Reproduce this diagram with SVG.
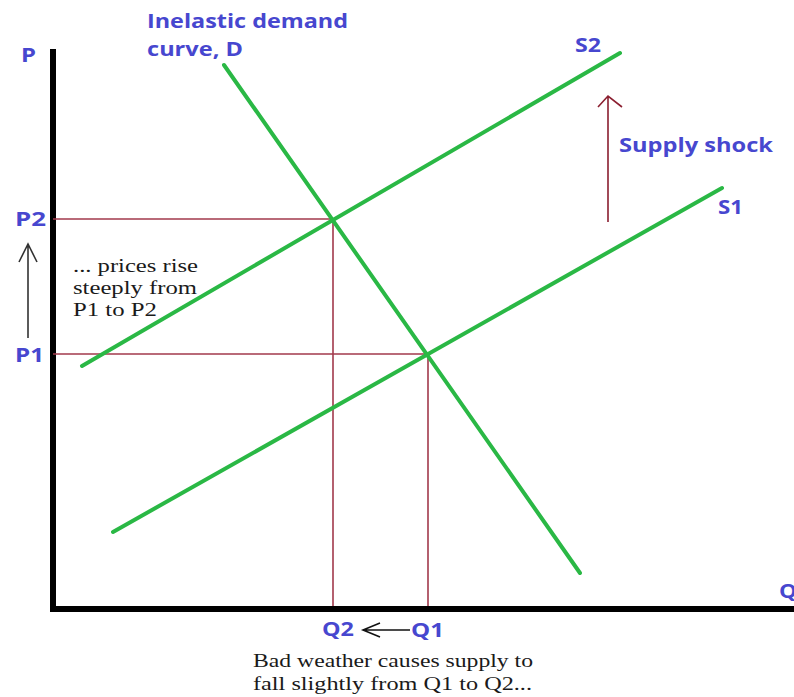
<svg xmlns="http://www.w3.org/2000/svg" width="794" height="697" viewBox="0 0 794 697">
<style>
.lbl{font-family:"Open Sans","Liberation Sans",sans-serif;font-weight:bold;fill:#4747cf;font-size:19px}
.note{font-family:"Liberation Serif","Times New Roman",serif;fill:#1a1a1a;font-size:19px}
.curve{stroke:#2ab845;stroke-width:4;stroke-linecap:round;fill:none}
.guide{stroke:#a23a4c;stroke-width:1.6;fill:none}
.axis{stroke:#000;stroke-width:6;fill:none}
</style>
<rect width="794" height="697" fill="#fff"/>
<g id="axes">
<line class="axis" x1="53" y1="49" x2="53" y2="612"/>
<line class="axis" x1="50" y1="609" x2="794" y2="609"/>
</g>
<g id="guides">
<polyline class="guide" points="53,219 333,219 333,606"/>
<polyline class="guide" points="53,354 428,354 428,606"/>
</g>
<g id="connectors">
<path d="M608,222 V96 M598,107 L608,96 L622,107" stroke="#8b1f30" stroke-width="1.6" fill="none"/>
<path d="M28,338 V244 M19,262 L28,244 L37,262" stroke="#333" stroke-width="1.6" fill="none"/>
<path d="M410,630 H363 M380,623 L363,630 L380,637" stroke="#111" stroke-width="1.6" fill="none"/>
</g>
<g id="demand">
<line class="curve" x1="224" y1="65" x2="580" y2="573"/>
<text class="lbl" x="147" y="28" textLength="201" lengthAdjust="spacingAndGlyphs">Inelastic demand</text>
<text class="lbl" x="147" y="56" textLength="96" lengthAdjust="spacingAndGlyphs">curve, D</text>
</g>
<g id="s2">
<line class="curve" x1="82" y1="366" x2="620" y2="53"/>
<text class="lbl" x="575" y="52" textLength="26" lengthAdjust="spacingAndGlyphs">S2</text>
</g>
<g id="s1">
<line class="curve" x1="113" y1="532" x2="722" y2="188"/>
<text class="lbl" x="718" y="214" textLength="25" lengthAdjust="spacingAndGlyphs">S1</text>
</g>
<g id="labels">
<text class="lbl" x="21" y="62" textLength="15" lengthAdjust="spacingAndGlyphs">P</text>
<text class="lbl" x="779" y="598" textLength="18" lengthAdjust="spacingAndGlyphs">Q</text>
<text class="lbl" x="619" y="152" textLength="154" lengthAdjust="spacingAndGlyphs">Supply shock</text>
<text class="lbl" x="15" y="226" textLength="31" lengthAdjust="spacingAndGlyphs">P2</text>
<text class="lbl" x="15" y="362" textLength="29" lengthAdjust="spacingAndGlyphs">P1</text>
<text class="lbl" x="322" y="636" textLength="32" lengthAdjust="spacingAndGlyphs">Q2</text>
<text class="lbl" x="411" y="637" textLength="33" lengthAdjust="spacingAndGlyphs">Q1</text>
</g>
<g id="notes">
<text class="note" x="73" y="272" textLength="125" lengthAdjust="spacingAndGlyphs">... prices rise</text>
<text class="note" x="73" y="294" textLength="124" lengthAdjust="spacingAndGlyphs">steeply from</text>
<text class="note" x="73" y="316" textLength="84" lengthAdjust="spacingAndGlyphs">P1 to P2</text>
<text class="note" x="253" y="667" textLength="280" lengthAdjust="spacingAndGlyphs">Bad weather causes supply to</text>
<text class="note" x="253" y="690" textLength="279" lengthAdjust="spacingAndGlyphs">fall slightly from Q1 to Q2...</text>
</g>
</svg>
